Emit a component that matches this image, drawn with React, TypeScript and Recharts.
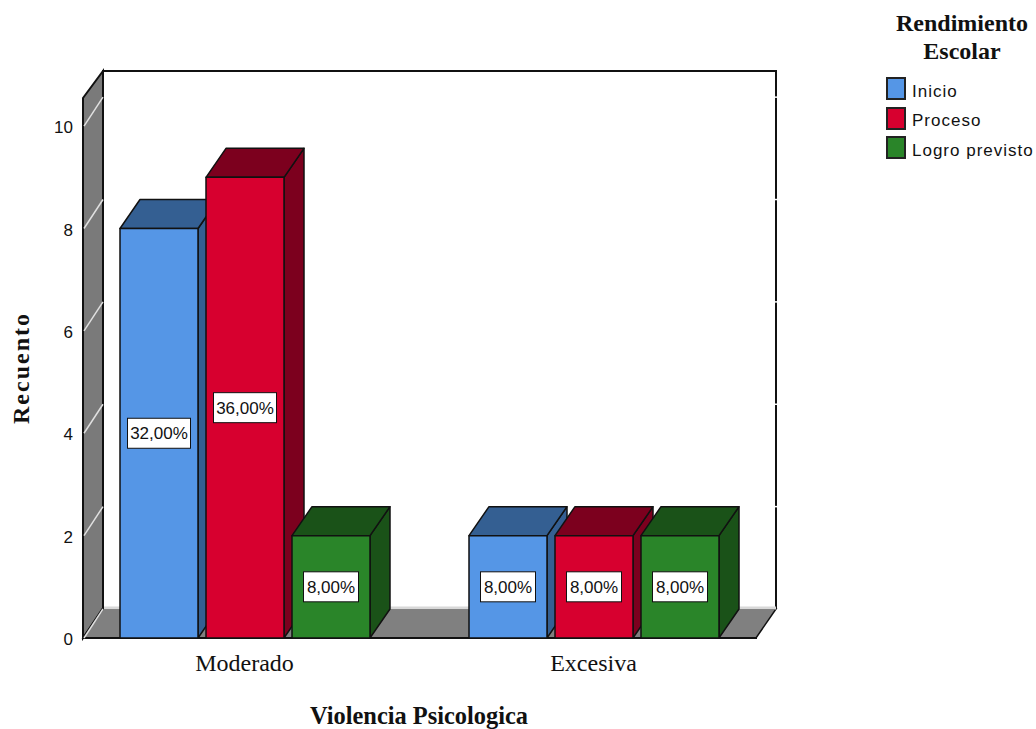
import { Bar, BarChart, LabelList, Legend, XAxis, YAxis } from 'recharts'

const categories = ['Moderado', 'Excesiva']
const inicio = [8, 2]
const proceso = [9, 2]
const logro = [2, 2]
const inicioPct = [32, 8]
const procesoPct = [36, 8]
const logroPct = [8, 8]
const yTicks = [0, 2, 4, 6, 8, 10]

const chartData = categories.map((name, i) => ({
  name,
  inicio: inicio[i],
  proceso: proceso[i],
  logro: logro[i],
  inicioPct: inicioPct[i],
  procesoPct: procesoPct[i],
  logroPct: logroPct[i],
}))

const SANS = '"Liberation Sans", Arial, sans-serif'
const SERIF = '"Liberation Serif", "Times New Roman", serif'
const INK = '#111'

// depth of the fake 3D box
const DX = 20
const DY = 29

const SERIES = [
  { key: 'inicio', pct: 'inicioPct', label: 'Inicio', fill: '#5596e6', dark: '#345f92' },
  { key: 'proceso', pct: 'procesoPct', label: 'Proceso', fill: '#d7002f', dark: '#7c001e' },
  { key: 'logro', pct: 'logroPct', label: 'Logro previsto', fill: '#2a8529', dark: '#1a5218' },
]

const Box3D = ({ x, y, width, height, fill, dark }: any) => {
  const r = x + width
  const b = y + height
  return (
    <g stroke={INK} strokeWidth={1.5} strokeLinejoin="round">
      <path d={`M${r},${b} L${r + DX},${b - DY} L${r + DX},${y - DY} L${r},${y} Z`} fill={dark} />
      <path d={`M${x},${y} L${x + DX},${y - DY} L${r + DX},${y - DY} L${r},${y} Z`} fill={dark} />
      <rect x={x} y={y} width={width} height={height} fill={fill} />
    </g>
  )
}

const PctLabel = ({ x, y, width, height, value }: any) => {
  const text = `${value},00%`
  const w = text.length * 8 + 15
  const cx = x + width / 2
  const cy = y + height / 2
  return (
    <g>
      <rect x={cx - w / 2} y={cy - 15} width={w} height={30} fill="#fff" stroke={INK} strokeWidth={1} />
      <text x={cx} y={cy + 6} textAnchor="middle" fontFamily={SANS} fontSize={17} fill={INK}>
        {text}
      </text>
    </g>
  )
}

// side wall, floor and back wall of the box around the plot
const Walls = () => (
  <g>
    <path d="M103,71 L776,71 L776,608 L103,608 Z" fill="#fff" stroke={INK} strokeWidth={2} />
    <path d="M83,98 L103,71 L103,608 L83,638 Z" fill="#7a7a7a" stroke={INK} strokeWidth={2} />
    <path d="M83,638 L103,609 L776,609 L756,638 Z" fill="#808080" stroke={INK} strokeWidth={1.5} />
    <line x1={104} y1={608} x2={776} y2={608} stroke="#d8d8d8" strokeWidth={3} />
    <line x1={82} y1={638} x2={757} y2={638} stroke={INK} strokeWidth={2} />
  </g>
)

// tick label, the slanted grid line on the side wall and the gap it leaves in the right border
const WallTick = ({ y, payload }: any) => (
  <g>
    <line x1={84} y1={y} x2={103} y2={y - DY} stroke="#e0e0e0" strokeWidth={1.5} />
    {payload.value > 0 && <line x1={774} y1={y - DY} x2={778} y2={y - DY} stroke="#fff" strokeWidth={1.5} />}
    <text x={73} y={y + 7} textAnchor="end" fontFamily={SANS} fontSize={17} fill={INK}>
      {payload.value}
    </text>
  </g>
)

const LegendBlock = ({ payload }: any) => (
  <div style={{ width: 176 }}>
    <div
      style={{
        fontFamily: SERIF,
        fontWeight: 'bold',
        fontSize: 24,
        lineHeight: '28px',
        color: INK,
        textAlign: 'center',
        marginLeft: 30,
        width: 144,
        marginTop: 1,
      }}
    >
      Rendimiento
      <br />
      Escolar
    </div>
    <div style={{ marginTop: 9, marginLeft: 26 }}>
      {(payload ?? []).map((item: any) => (
        <div key={item.value} style={{ display: 'flex', alignItems: 'center', height: 29.5 }}>
          <span
            style={{
              width: 16,
              height: 19,
              background: item.color,
              border: '2px solid #222',
              marginRight: 6,
            }}
          />
          <span
            style={{
              fontFamily: SANS,
              fontSize: 17,
              letterSpacing: 1,
              color: INK,
              whiteSpace: 'nowrap',
              position: 'relative',
              top: 3,
            }}
          >
            {item.value}
          </span>
        </div>
      ))}
    </div>
  </div>
)

export default function App() {
  return (
    <div style={{ position: 'absolute', left: 0, top: 0 }}>
      <BarChart
        width={1036}
        height={729}
        data={chartData}
        margin={{ top: 98, right: 268, bottom: 0, left: 0 }}
        barSize={78}
        barGap={8}
      >
        <Walls />
        <XAxis
          dataKey="name"
          height={91}
          axisLine={false}
          tickLine={false}
          tickMargin={10}
          tick={{ fontFamily: SERIF, fontSize: 24, fill: INK }}
          label={{
            value: 'Violencia Psicologica',
            position: 'insideBottom',
            offset: 5,
            style: { fontFamily: SERIF, fontWeight: 'bold', fontSize: 24.4, fill: INK },
          }}
        />
        <YAxis
          width={70}
          domain={[0, 10.55]}
          ticks={yTicks}
          allowDataOverflow
          axisLine={false}
          tickLine={false}
          tickSize={0}
          tick={<WallTick />}
          label={{
            value: 'Recuento',
            angle: -90,
            position: 'insideLeft',
            offset: 20,
            style: { fontFamily: SERIF, fontWeight: 'bold', fontSize: 24, letterSpacing: 2, fill: INK, textAnchor: 'middle' },
          }}
        />
        <Legend
          layout="vertical"
          align="center"
          verticalAlign="middle"
          itemSorter={null}
          content={<LegendBlock />}
          wrapperStyle={{ left: 860, top: 8, width: 176 }}
        />
        {SERIES.map((s) => (
          <Bar
            key={s.key}
            dataKey={s.key}
            name={s.label}
            fill={s.fill}
            isAnimationActive={false}
            shape={(props: any) => <Box3D {...props} dark={s.dark} />}
          >
            <LabelList dataKey={s.pct} content={<PctLabel />} />
          </Bar>
        ))}
      </BarChart>
    </div>
  )
}
